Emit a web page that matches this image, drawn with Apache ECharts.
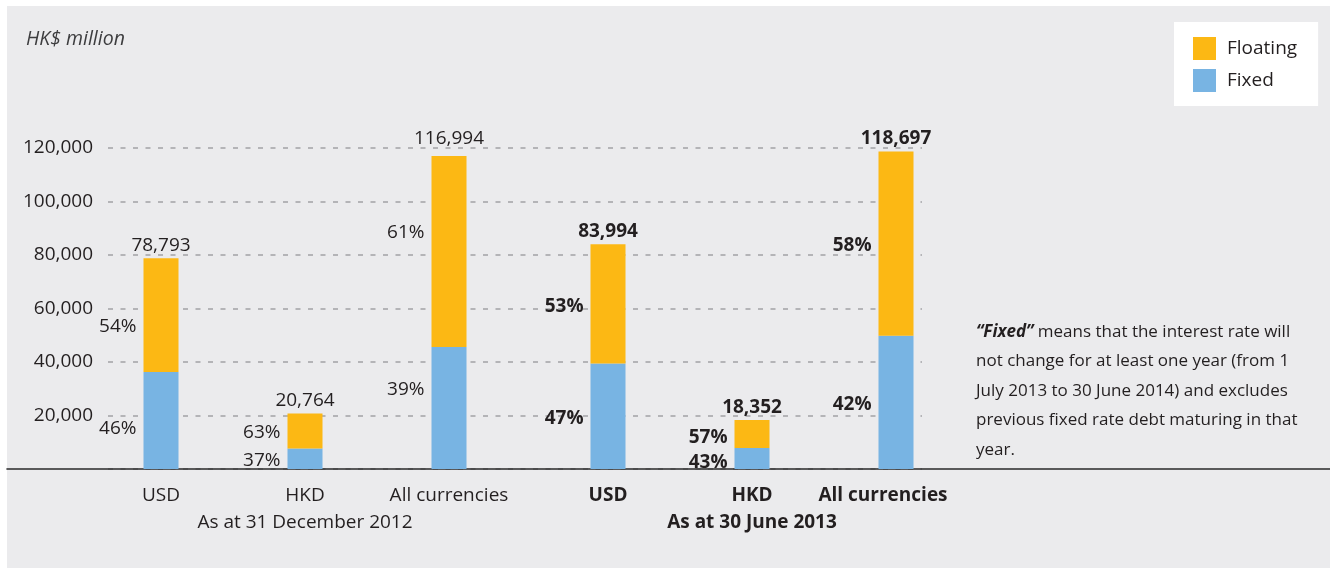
<!DOCTYPE html>
<html>
<head>
<meta charset="utf-8">
<script src="https://cdn.jsdelivr.net/npm/echarts@6/dist/echarts.min.js"></script>
<style>
  html, body { margin: 0; padding: 0; background: #ffffff; }
  #panel { position: absolute; left: 7px; top: 6px; width: 1323px; height: 562px; background: #ebebed; }
  #chart { position: absolute; left: 0; top: 0; width: 1330px; height: 568px; }
</style>
</head>
<body>
<div id="panel"></div>
<div id="chart"></div>
<script>
// Debt portfolio by currency, split into fixed and floating rate (HK$ million)
const categories = ['USD', 'HKD', 'All currencies'];
const periodNames = ['As at 31 December 2012', 'As at 30 June 2013'];

const totals2012 = [78793, 20764, 116994];
const fixed2012 = [36245, 7683, 45628];
const floating2012 = [42548, 13081, 71366];
const fixedPct2012 = [46, 37, 39];
const floatingPct2012 = [54, 63, 61];

const totals2013 = [83994, 18352, 118697];
const fixed2013 = [39477, 7891, 49853];
const floating2013 = [44517, 10461, 68844];
const fixedPct2013 = [47, 43, 42];
const floatingPct2013 = [53, 57, 58];

const yTicks = [0, 20000, 40000, 60000, 80000, 100000, 120000];

const FONT = '"Open Sans", "Noto Sans", sans-serif';
const TEXT = '#231f20';
const ORANGE = '#fcb814';
const BLUE = '#78b4e3';

const fmt = v => v.toLocaleString('en-US');

const chart = echarts.init(document.getElementById('chart'));

const TOP = 148, BOTTOM = 99;
const yMax = yTicks[yTicks.length - 1];
const yStep = yTicks[1] - yTicks[0];

// vertical nudges (px) for the labels of each group: [USD, HKD, All currencies]
const labelNudge = [
  { fixed: [8, 2, -18], floating: [11, 2, -19], total: [0, 0, -5] },
  { fixed: [2, 4, 2], floating: [3, 4, 2], total: [0, 0, 0] }
];

const plainText = (weight) => ({
  fontFamily: FONT, fontSize: 19, fontWeight: weight, color: TEXT,
  opacity: 1, textBorderWidth: 0, textShadowBlur: 0
});

function groupSeries(gi, fixed, floating, totals, fixedPct, floatingPct, bold) {
  const weight = bold ? 'bold' : 'normal';
  const axis = gi + 2;
  const nudge = labelNudge[gi];
  const pctLabel = (p, dy) => Object.assign({
    show: true, position: 'left', distance: 7, offset: [0, dy], formatter: p + '%'
  }, plainText(weight));
  return [
    {
      name: 'Fixed', type: 'bar', stack: 'g' + gi, xAxisIndex: axis, yAxisIndex: axis,
      barWidth: 35, itemStyle: { color: BLUE }, z: 3,
      data: fixed.map((v, i) => ({ value: v, label: pctLabel(fixedPct[i], nudge.fixed[i]) }))
    },
    {
      name: 'Floating', type: 'bar', stack: 'g' + gi, xAxisIndex: axis, yAxisIndex: axis,
      barWidth: 35, itemStyle: { color: ORANGE }, z: 3,
      data: floating.map((v, i) => ({ value: v, label: pctLabel(floatingPct[i], nudge.floating[i]) }))
    },
    {
      name: 'Total', type: 'scatter', xAxisIndex: axis, yAxisIndex: axis,
      symbolSize: 0, silent: true, z: 4,
      data: totals.map((v, i) => ({
        value: v,
        label: Object.assign({
          show: true, position: 'top', distance: 3, offset: [0, nudge.total[i]],
          formatter: fmt(v)
        }, plainText(weight))
      }))
    }
  ];
}

// second-period category labels; the last one sits a little to the left of its bar
const categories2013 = categories.map((c, i) =>
  i === categories.length - 1 ? { value: c, textStyle: { padding: [0, 26, 0, 0] } } : c
);

const option = {
  backgroundColor: 'transparent',
  animation: false,
  textStyle: { fontFamily: FONT, color: TEXT },
  title: [
    {
      text: 'HK$ million', left: 21, top: 24,
      textStyle: { fontFamily: FONT, fontSize: 19.5, fontStyle: 'italic', fontWeight: 'normal', color: '#3d3d3f' }
    },
    {
      text: '{b|\u201cFixed\u201d} means that the interest rate will\nnot change for at least one year (from 1\nJuly 2013 to 30 June 2014) and excludes\nprevious fixed rate debt maturing in that\nyear.',
      left: 971, top: 312,
      textStyle: {
        fontFamily: FONT, fontSize: 17, fontWeight: 'normal', color: TEXT, lineHeight: 29.5,
        rich: {
          b: { fontFamily: FONT, fontSize: 17, fontWeight: 'bold', fontStyle: 'italic', color: TEXT, lineHeight: 29.5 }
        }
      }
    }
  ],
  legend: {
    data: ['Floating', 'Fixed'],
    orient: 'vertical', left: 1174, top: 22,
    backgroundColor: '#ffffff',
    padding: [15, 21, 14, 19],
    itemWidth: 23, itemHeight: 23, itemGap: 9,
    icon: 'rect',
    textStyle: { fontFamily: FONT, fontSize: 19, color: TEXT, padding: [2, 0, 0, 6] }
  },
  grid: [
    { left: 108, right: 408, top: TOP, bottom: BOTTOM },   // gridlines + value axis
    { left: 7, right: 0, top: TOP, bottom: BOTTOM },       // baseline across the panel
    { left: 89, width: 432, top: TOP, bottom: BOTTOM },    // first period
    { left: 536, width: 432, top: TOP, bottom: BOTTOM }    // second period
  ],
  xAxis: [
    { gridIndex: 0, type: 'category', data: [''], show: false },
    {
      gridIndex: 1, type: 'category', data: [''],
      axisLine: { show: true, lineStyle: { color: '#2a2a2a', width: 1.6 } },
      axisTick: { show: false }, axisLabel: { show: false }
    },
    {
      gridIndex: 2, type: 'category', data: categories,
      axisLine: { show: false }, axisTick: { show: false },
      axisLabel: { interval: 0, hideOverlap: false, margin: 17, fontFamily: FONT, fontSize: 19, color: TEXT },
      name: periodNames[0], nameLocation: 'middle', nameGap: 44,
      nameTextStyle: { fontFamily: FONT, fontSize: 19, color: TEXT }
    },
    {
      gridIndex: 3, type: 'category', data: categories2013,
      axisLine: { show: false }, axisTick: { show: false },
      axisLabel: { interval: 0, hideOverlap: false, margin: 17, fontFamily: FONT, fontSize: 19, fontWeight: 'bold', color: TEXT },
      name: periodNames[1], nameLocation: 'middle', nameGap: 44,
      nameTextStyle: { fontFamily: FONT, fontSize: 19, fontWeight: 'bold', color: TEXT }
    }
  ],
  yAxis: [
    {
      gridIndex: 0, type: 'value', min: 0, max: yMax, interval: yStep,
      axisLine: { show: false }, axisTick: { show: false },
      axisLabel: {
        margin: 15, fontFamily: FONT, fontSize: 19, color: TEXT,
        formatter: v => (v === 0 ? '' : fmt(v))
      },
      splitLine: { show: true, lineStyle: { color: '#a3a3a5', width: 1.5, type: [5, 7.5] } }
    },
    { gridIndex: 1, type: 'value', min: 0, max: yMax, show: false, splitLine: { show: false } },
    { gridIndex: 2, type: 'value', min: 0, max: yMax, show: false, splitLine: { show: false } },
    { gridIndex: 3, type: 'value', min: 0, max: yMax, show: false, splitLine: { show: false } }
  ],
  series: [
    ...groupSeries(0, fixed2012, floating2012, totals2012, fixedPct2012, floatingPct2012, false),
    ...groupSeries(1, fixed2013, floating2013, totals2013, fixedPct2013, floatingPct2013, true)
  ]
};

chart.setOption(option);
</script>
</body>
</html>
